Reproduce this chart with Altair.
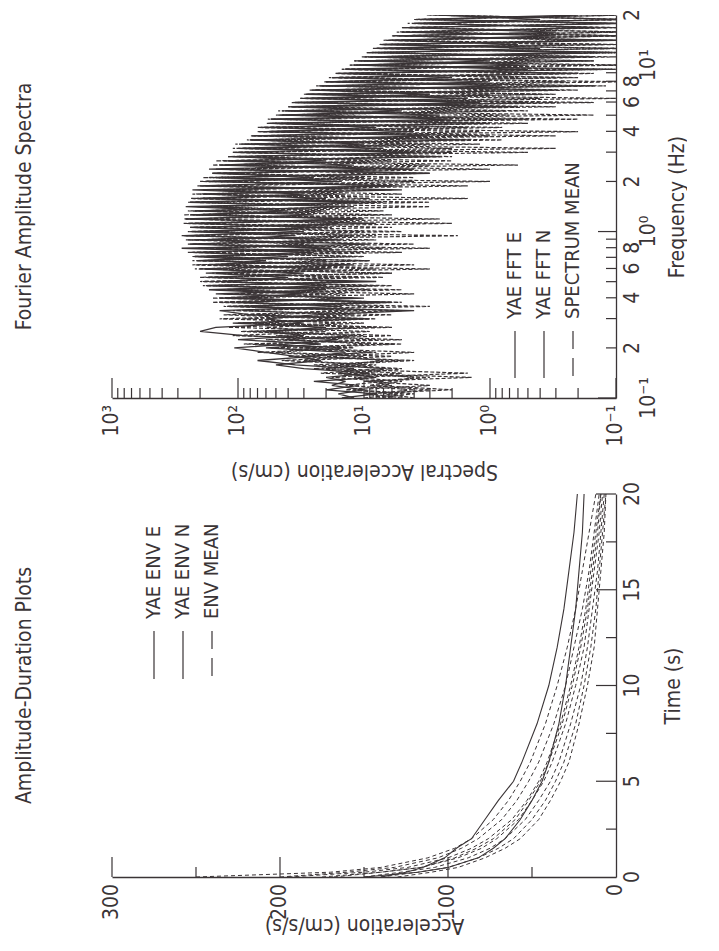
import altair as alt
import pandas as pd

FONT = "Liberation Sans Narrow, DejaVu Sans Condensed, Roboto Condensed, sans-serif"
INK = "#3a3436"
W, H = 504, 383


def nums(text):
    return [float(s) for s in text.split()]


# ---------------- Fourier amplitude spectra (cm/s vs Hz) ----------------
FREQ_HZ = nums("""
0.100 0.106 0.112 0.119 0.126 0.133 0.141 0.150 0.158 0.168 0.178 0.188 0.200 0.211 0.224 0.237
0.251 0.266 0.282 0.299 0.316 0.335 0.355 0.376 0.398 0.422 0.447 0.473 0.501 0.531 0.562 0.596
0.631 0.668 0.708 0.750 0.794 0.841 0.891 0.944 1.00 1.06 1.12 1.19 1.26 1.33 1.41 1.50 1.58 1.68
1.78 1.88 2.00 2.11 2.24 2.37 2.51 2.66 2.82 2.99 3.16 3.35 3.55 3.76 3.98 4.22 4.47 4.73 5.01 5.31
5.62 5.96 6.31 6.68 7.08 7.50 7.94 8.41 8.91 9.44 10.0 10.6 11.2 11.9 12.6 13.3 14.1 15.0 15.8 16.8
17.8 18.8 20.0""")

FFT_E = nums("""
12 16 10 18 14 20 9 30 50 22 35 60 107 40 16 90 200 150 30 60 25 4 120 6 140 30 170 20 130 40
180 18 160 60 220 25 280 9 200 35 240 20 250 12 230 40 260 11 200 30 230 6 180 25 160 8 140 20
110 4 100 10 80 3 60 8 55 2 45 5 38 1.2 30 3 25 0.8 20 2 16 0.5 12 1 9 0.2 8 0.6 6 0.3 5 0.15 4
0.4 2.5""")

FFT_N = nums("""
15 8 20 11 25 8 16 12 35 70 25 14 60 22 100 30 60 20 110 9 80 140 15 100 10 150 20 180 8 170
30 200 12 210 40 230 18 250 15 270 30 240 8 260 25 220 14 240 20 190 5 200 15 150 3 170 12 120
2.5 110 7 90 1.5 75 4 65 1 55 2.5 42 0.6 35 1.5 28 0.3 22 1 18 0.2 14 0.5 11 0.15 9 0.4 7 0.1
5.5 0.3 4.5 0.08 3.5 0.2""")

FFT_MEAN = nums("""
4 7 3 9 6 4 10 5 15 7 20 4 35 9 45 6 55 12 70 8 90 15 80 7 100 14 120 6 140 18 150 8 130 20 170
10 150 25 180 12 160 30 190 10 170 20 160 8 150 18 140 6 120 10 110 4 100 6 85 2 75 3 65 1 55 1.5
45 0.5 38 0.8 30 0.3 25 0.4 20 0.15 16 0.25 13 0.1 10 0.15 8 0.08 6.5 0.1 5 0.08 4 0.1 3.2 0.08 2.6""")

FFT_OTHER_1 = nums("""
8 4 12 3 10 1.4 15 6 25 5 40 8 30 5 60 10 80 6 100 12 70 5 130 8 110 4 150 10 190 7 160 3 210 9
230 5 200 4 260 1.8 250 6 220 2.5 270 7 210 3 240 5 180 1.5 200 4 150 1 160 2 120 0.5 110 1.2 85
0.3 70 0.8 60 0.2 50 0.5 40 0.15 32 0.3 26 0.12 20 0.2 16 0.1 13 0.15 10 0.08 8 0.12 6.5 0.08 5
0.1 4 0.08 3""")

FFT_OTHER_2 = nums("""
6 10 2 8 5 12 1.5 20 8 45 10 70 12 90 5 50 9 120 15 90 6 110 3 140 12 120 5 160 12 200 6 180 4
230 10 200 3 240 8 280 5 230 2 260 8 250 3 220 1.5 230 6 170 1 190 3 140 0.6 150 2 100 0.3 105
0.8 80 0.2 70 0.5 58 0.15 48 0.3 38 0.1 30 0.2 24 0.08 19 0.15 15 0.08 12 0.1 9.5 0.08 7.5 0.1 6
0.08 5 0.1 3.8 0.08""")

FFT_OTHER_3 = nums("""
5 9 4 14 7 18 5 25 10 30 6 50 15 75 8 110 20 60 10 140
12 90 7 160 15 130 9 190 14 170 6 220 18 200 12 250 7 230 20 260
10 240 16 270 6 220 12 250 9 200 15 210 4 170 8 150 3 130 5 110
2 95 4 78 1.2 66 2 55 0.7 45 1.3 36 0.4 29 0.8 23 0.25 18 0.5 15
0.15 12 0.3 9.5 0.1 7.5 0.2 6 0.08 5 0.12 4 0.08""")

FFT_OTHER_4 = nums("""
10 5 14 6 9 3 22 7 18 4 30 9 55 6 40 12 95 8 70 18
130 10 100 5 160 20 120 8 200 11 150 25 230 9 180 15 210 30 250 8
220 18 270 10 240 22 200 7 230 14 190 5 180 12 160 4 130 9 120 2.5
90 5 80 1.5 68 3 58 0.8 48 1.8 40 0.5 32 1 27 0.3 21 0.6 17 0.2
13 0.4 10.5 0.12 8.5 0.25 7 0.1 5.5 0.15 4.5 0.08 3.2""")

FOURIER_SOLID = {"YAE FFT E": FFT_E, "YAE FFT N": FFT_N}
FOURIER_DASHED = {"SPECTRUM MEAN": FFT_MEAN, "FFT 1": FFT_OTHER_1, "FFT 2": FFT_OTHER_2,
                  "FFT 3": FFT_OTHER_3, "FFT 4": FFT_OTHER_4}

SPEC_TICKS = [0.1, 1, 10, 100, 1000]
SPEC_LABELS = ["10⁻¹", "10⁰", "10¹", "10²", "10³"]
FREQ_MINOR_TICKS = [0.2, 0.4, 0.6, 0.8, 2, 4, 6, 8, 20]
FREQ_MINOR_LABELS = ["2", "4", "6", "8", "2", "4", "6", "8", "2"]
FREQ_DECADE_TICKS = [0.1, 1, 10]
FREQ_DECADE_LABELS = ["10⁻¹", "10⁰", "10¹"]
FOURIER_LEGEND = ["YAE FFT E", "YAE FFT N", "SPECTRUM MEAN"]

# ---------------- Amplitude-duration envelopes (cm/s/s vs s) ----------------
TIME_S = [0, 0.25, 0.5, 1, 1.5, 2, 3, 4, 5, 6, 8, 10, 12, 14, 16, 18, 20]
ENV_E = [140, 125, 115, 102, 95, 86, 78, 70, 61, 56, 47, 40, 35, 31, 28, 25, 23]
ENV_N = [150, 118, 100, 82, 73, 66, 57, 50, 44, 40, 34, 30, 27, 24, 22, 20, 19]
ENV_MEAN = [175, 140, 116, 96, 83, 73, 60, 52, 45, 40, 32, 26, 21, 17, 14, 11, 9]
ENV_OTHER = {
    "env 1": [250, 170, 140, 112, 96, 86, 73, 64, 57, 51, 42, 35, 29, 24, 20, 16, 12],
    "env 2": [200, 160, 132, 106, 92, 82, 68, 59, 52, 46, 37, 30, 25, 20, 16, 13, 10],
    "env 3": [195, 150, 124, 100, 86, 76, 62, 53, 46, 41, 33, 27, 22, 18, 15, 12, 9],
    "env 4": [168, 140, 116, 94, 80, 71, 58, 50, 43, 38, 30, 24, 19, 16, 13, 10, 8],
    "env 5": [150, 128, 108, 88, 75, 66, 54, 46, 39, 34, 27, 21, 17, 14, 11, 9, 7],
    "env 6": [140, 118, 100, 82, 70, 61, 50, 42, 36, 31, 24, 19, 15, 12, 10, 8, 6],
    "env 7": [130, 110, 94, 78, 66, 57, 46, 39, 33, 28, 22, 17, 13, 11, 9, 7, 6],
}
ENV_SOLID = {"YAE ENV E": ENV_E, "YAE ENV N": ENV_N}
ENV_DASHED = dict({"ENV MEAN": ENV_MEAN}, **ENV_OTHER)

ACC_TICKS = [0, 100, 200, 300]
ACC_LABELS = ["0", "100", "200", "300"]
TIME_TICKS = [0, 5, 10, 15, 20]
TIME_LABELS = ["0", "5", "10", "15", "20"]
AMP_LEGEND = ["YAE ENV E", "YAE ENV N", "ENV MEAN"]

LABEL_SIZE = 21
TITLE_SIZE = 21


def long_df(xvals, series, xname, vname):
    rows = []
    for name, vals in series.items():
        assert len(vals) == len(xvals), name
        for i, (xv, v) in enumerate(zip(xvals, vals)):
            rows.append({"series": name, "idx": i, xname: xv, vname: v})
    return pd.DataFrame(rows)


def bottom_axis(title, title_pad):
    return alt.Axis(labels=False, ticks=False, grid=False, title=title, titleAngle=180,
                    titleBaseline="bottom", titlePadding=title_pad)


def right_axis(title, title_pad):
    return alt.Axis(orient="right", labels=False, ticks=False, grid=False, title=title,
                    titleAngle=270, titleBaseline="top", titlePadding=title_pad)


def x_ticks(vals, scale, axis, length):
    return alt.Chart(pd.DataFrame({"t": vals})).mark_rule(color=INK, strokeWidth=1.2).encode(
        x=alt.X("t:Q", scale=scale, axis=axis), y=alt.value(H), y2=alt.value(H - length))


def y_ticks(vals, scale, axis, length):
    return alt.Chart(pd.DataFrame({"t": vals})).mark_rule(color=INK, strokeWidth=1.2).encode(
        y=alt.Y("t:Q", scale=scale, axis=axis), x=alt.value(W), x2=alt.value(W - length))


def x_labels(vals, labels, scale, axis, pad):
    return alt.Chart(pd.DataFrame({"t": vals, "lab": labels})).mark_text(
        angle=270, align="right", baseline="middle", font=FONT, fontSize=LABEL_SIZE, color=INK
    ).encode(x=alt.X("t:Q", scale=scale, axis=axis), y=alt.value(H + pad), text="lab:N")


def y_labels(vals, labels, scale, axis, pad):
    return alt.Chart(pd.DataFrame({"t": vals, "lab": labels})).mark_text(
        angle=270, align="center", baseline="top", font=FONT, fontSize=LABEL_SIZE, color=INK
    ).encode(y=alt.Y("t:Q", scale=scale, axis=axis), x=alt.value(W + pad), text="lab:N")


def legend(labels, x0, dx, y_line_top, y_line_bottom):
    layers = []
    for k, lab in enumerate(labels):
        px = x0 + k * dx
        dash = [18, 9] if k == 2 else [1, 0]
        layers.append(
            alt.Chart(pd.DataFrame({"lab": [lab]})).mark_rule(
                color=INK, strokeWidth=1.2, strokeDash=dash
            ).encode(x=alt.value(px), y=alt.value(y_line_top), y2=alt.value(y_line_bottom))
        )
        layers.append(
            alt.Chart(pd.DataFrame({"lab": [lab]})).mark_text(
                angle=270, align="left", baseline="middle", font=FONT, fontSize=20, color=INK
            ).encode(x=alt.value(px), y=alt.value(y_line_top - 12), text="lab:N")
        )
    return layers


def panel_title(text):
    return alt.TitleParams(text, orient="left", anchor="middle", font=FONT, fontSize=TITLE_SIZE,
                           fontWeight="normal", color=INK, offset=66)


# ---------------- Fourier panel ----------------
spec_scale = alt.Scale(type="log", domain=[0.1, 1000], reverse=True, nice=False)
freq_scale = alt.Scale(type="log", domain=[0.1, 20], nice=False)
spec_axis = bottom_axis("Spectral Acceleration (cm/s)", 62)
freq_axis = right_axis("Frequency (Hz)", 50)

fft_solid = alt.Chart(long_df(FREQ_HZ, FOURIER_SOLID, "f", "v")).mark_line(
    color=INK, strokeWidth=1.3, clip=True
).encode(
    x=alt.X("v:Q", scale=spec_scale, axis=spec_axis),
    y=alt.Y("f:Q", scale=freq_scale, axis=freq_axis),
    detail="series:N",
    order=alt.Order("idx:Q"),
)
fft_dashed = alt.Chart(long_df(FREQ_HZ, FOURIER_DASHED, "f", "v")).mark_line(
    color=INK, strokeWidth=1.2, strokeDash=[4, 2], clip=True
).encode(
    x=alt.X("v:Q", scale=spec_scale, axis=spec_axis),
    y=alt.Y("f:Q", scale=freq_scale, axis=freq_axis),
    detail="series:N",
    order=alt.Order("idx:Q"),
)

spec_minor = [m * d for d in [0.1, 1, 10, 100] for m in range(2, 10)]
freq_minor = [m * d for d in [0.1, 1] for m in range(2, 10)]

fourier = alt.layer(
    fft_solid, fft_dashed,
    x_ticks(SPEC_TICKS, spec_scale, spec_axis, 20), x_ticks(spec_minor, spec_scale, spec_axis, 10),
    y_ticks([0.1, 1, 10], freq_scale, freq_axis, 18), y_ticks(freq_minor, freq_scale, freq_axis, 10),
    x_labels(SPEC_TICKS, SPEC_LABELS, spec_scale, spec_axis, 7),
    y_labels(FREQ_MINOR_TICKS, FREQ_MINOR_LABELS, freq_scale, freq_axis, 6),
    y_labels(FREQ_DECADE_TICKS, FREQ_DECADE_LABELS, freq_scale, freq_axis, 22),
    *legend(FOURIER_LEGEND, 403, 29, 316, 363),
).properties(width=W, height=H, title=panel_title("Fourier Amplitude Spectra"))

# ---------------- Amplitude-duration panel ----------------
acc_scale = alt.Scale(domain=[0, 300], reverse=True, nice=False)
time_scale = alt.Scale(domain=[0, 20], nice=False)
acc_axis = bottom_axis("Acceleration (cm/s/s)", 37)
time_axis = right_axis("Time (s)", 46)

env_solid = alt.Chart(long_df(TIME_S, ENV_SOLID, "t", "a")).mark_line(
    color=INK, strokeWidth=1.1, clip=True
).encode(
    x=alt.X("a:Q", scale=acc_scale, axis=acc_axis),
    y=alt.Y("t:Q", scale=time_scale, axis=time_axis),
    detail="series:N",
    order=alt.Order("idx:Q"),
)
env_dashed = alt.Chart(long_df(TIME_S, ENV_DASHED, "t", "a")).mark_line(
    color=INK, strokeWidth=1, strokeDash=[4, 3], clip=True
).encode(
    x=alt.X("a:Q", scale=acc_scale, axis=acc_axis),
    y=alt.Y("t:Q", scale=time_scale, axis=time_axis),
    detail="series:N",
    order=alt.Order("idx:Q"),
)

amp = alt.layer(
    env_solid, env_dashed,
    x_ticks([100, 200, 300], acc_scale, acc_axis, 20), x_ticks([50, 150, 250], acc_scale, acc_axis, 10),
    y_ticks([5, 10, 15, 20], time_scale, time_axis, 20),
    y_ticks([2.5, 7.5, 12.5, 17.5], time_scale, time_axis, 10),
    x_labels(ACC_TICKS, ACC_LABELS, acc_scale, acc_axis, 7),
    y_labels(TIME_TICKS, TIME_LABELS, time_scale, time_axis, 6),
    *legend(AMP_LEGEND, 42, 29, 137, 185),
).properties(width=W, height=H, title=panel_title("Amplitude-Duration Plots"))

chart = alt.vconcat(fourier, amp, spacing=0).properties(
    padding={"left": 5, "top": 0, "right": 0, "bottom": 0}
).configure(
    font=FONT, view=alt.ViewConfig(stroke=None)
).configure_axis(
    titleFont=FONT, titleFontSize=TITLE_SIZE, titleFontWeight="normal", titleColor=INK,
    domainColor=INK, domainWidth=1.3,
)

chart.save("out.html", embed_options={"renderer": "svg", "actions": False})
